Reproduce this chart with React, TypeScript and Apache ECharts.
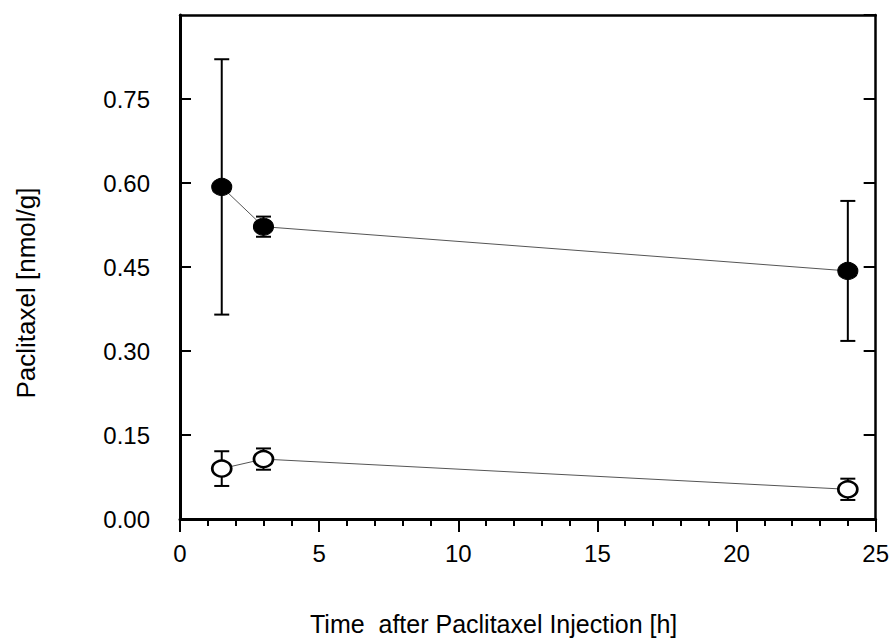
import React, { useEffect, useRef } from "react";
import * as echarts from "echarts";

const timesH = [1.5, 3, 24];
const filledMean = [0.593, 0.522, 0.443];
const filledErr = [0.228, 0.018, 0.125];
const openMean = [0.09, 0.107, 0.053];
const openErr = [0.031, 0.019, 0.019];
const xTitle = "Time  after Paclitaxel Injection [h]";
const yTitle = "Paclitaxel [nmol/g]";

const FONT = "'Liberation Sans', Arial, sans-serif";

function errorSeries(means: number[], errs: number[], name: string) {
  return {
    type: "custom",
    name,
    z: 1,
    silent: true,
    data: timesH.map((t, i) => [t, means[i] - errs[i], means[i] + errs[i]]),
    renderItem: (params: any, api: any) => {
      const x = api.value(0);
      const lo = api.coord([x, api.value(1)]);
      const hi = api.coord([x, api.value(2)]);
      const hw = 7.5;
      const st = { stroke: "#000", lineWidth: 2, fill: "none" };
      return {
        type: "group",
        children: [
          { type: "line", shape: { x1: lo[0], y1: lo[1], x2: hi[0], y2: hi[1] }, style: st },
          { type: "line", shape: { x1: lo[0] - hw, y1: lo[1], x2: lo[0] + hw, y2: lo[1] }, style: st },
          { type: "line", shape: { x1: hi[0] - hw, y1: hi[1], x2: hi[0] + hw, y2: hi[1] }, style: st },
        ],
      };
    },
  };
}

export default function App() {
  const ref = useRef<HTMLDivElement>(null);
  useEffect(() => {
    if (!ref.current) return;
    const chart = echarts.init(ref.current, undefined, { renderer: "svg" });
    const labelStyle = { color: "#000", fontFamily: FONT, fontSize: 24 };
    chart.setOption({
      animation: false,
      backgroundColor: "#fff",
      grid: { left: 180, right: 15, top: 15, bottom: 120, containLabel: false },
      xAxis: [
        {
          type: "value",
          min: 0,
          max: 25,
          interval: 5,
          position: "bottom",
          axisLine: { show: true, onZero: false, lineStyle: { color: "#000", width: 3 } },
          axisTick: { show: true, inside: false, length: 13, lineStyle: { color: "#000", width: 2 } },
          minorTick: { show: true, splitNumber: 5, length: 7, lineStyle: { color: "#000", width: 2 } },
          axisLabel: { ...labelStyle, margin: 22 },
          splitLine: { show: false },
        },
        {
          type: "value",
          min: 0,
          max: 25,
          position: "top",
          axisLine: { show: true, onZero: false, lineStyle: { color: "#000", width: 2.5 } },
          axisTick: { show: false },
          axisLabel: { show: false },
          splitLine: { show: false },
        },
      ],
      yAxis: [
        {
          type: "value",
          min: 0,
          max: 0.9,
          interval: 0.15,
          position: "left",
          axisLine: { show: true, onZero: false, lineStyle: { color: "#000", width: 3 } },
          axisTick: { show: true, inside: true, length: 11, lineStyle: { color: "#000", width: 2 } },
          axisLabel: {
            ...labelStyle,
            margin: 30,
            showMaxLabel: false,
            formatter: (v: number) => (v >= 0.899 ? "" : v.toFixed(2)),
          },
          splitLine: { show: false },
        },
        {
          type: "value",
          min: 0,
          max: 0.9,
          interval: 0.15,
          position: "right",
          axisLine: { show: true, onZero: false, lineStyle: { color: "#000", width: 2.5 } },
          axisTick: { show: true, inside: true, length: 12, lineStyle: { color: "#000", width: 2 } },
          axisLabel: { show: false },
          splitLine: { show: false },
        },
      ],
      series: [
        errorSeries(filledMean, filledErr, "filledErr"),
        errorSeries(openMean, openErr, "openErr"),
        {
          type: "line",
          name: "filled",
          z: 3,
          data: timesH.map((t, i) => [t, filledMean[i]]),
          symbol: "circle",
          symbolSize: [20, 17],
          lineStyle: { color: "#555", width: 1 },
          itemStyle: { color: "#000", borderColor: "#000", borderWidth: 1 },
        },
        {
          type: "line",
          name: "open",
          z: 3,
          data: timesH.map((t, i) => [t, openMean[i]]),
          symbol: "circle",
          symbolSize: [19, 16],
          lineStyle: { color: "#555", width: 1 },
          itemStyle: { color: "#fff", borderColor: "#000", borderWidth: 2.5 },
        },
      ],
      graphic: [
        {
          type: "text",
          x: 310,
          y: 624,
          style: { text: xTitle, fill: "#000", font: `25px ${FONT}`, align: "left", verticalAlign: "middle" },
        },
        {
          type: "text",
          x: 26,
          y: 293,
          rotation: Math.PI / 2,
          style: { text: yTitle, fill: "#000", font: `26px ${FONT}`, align: "center", verticalAlign: "middle" },
        },
      ],
    });
    return () => chart.dispose();
  }, []);
  return <div ref={ref} style={{ position: "fixed", left: 0, top: 0, width: 892, height: 639 }} />;
}
